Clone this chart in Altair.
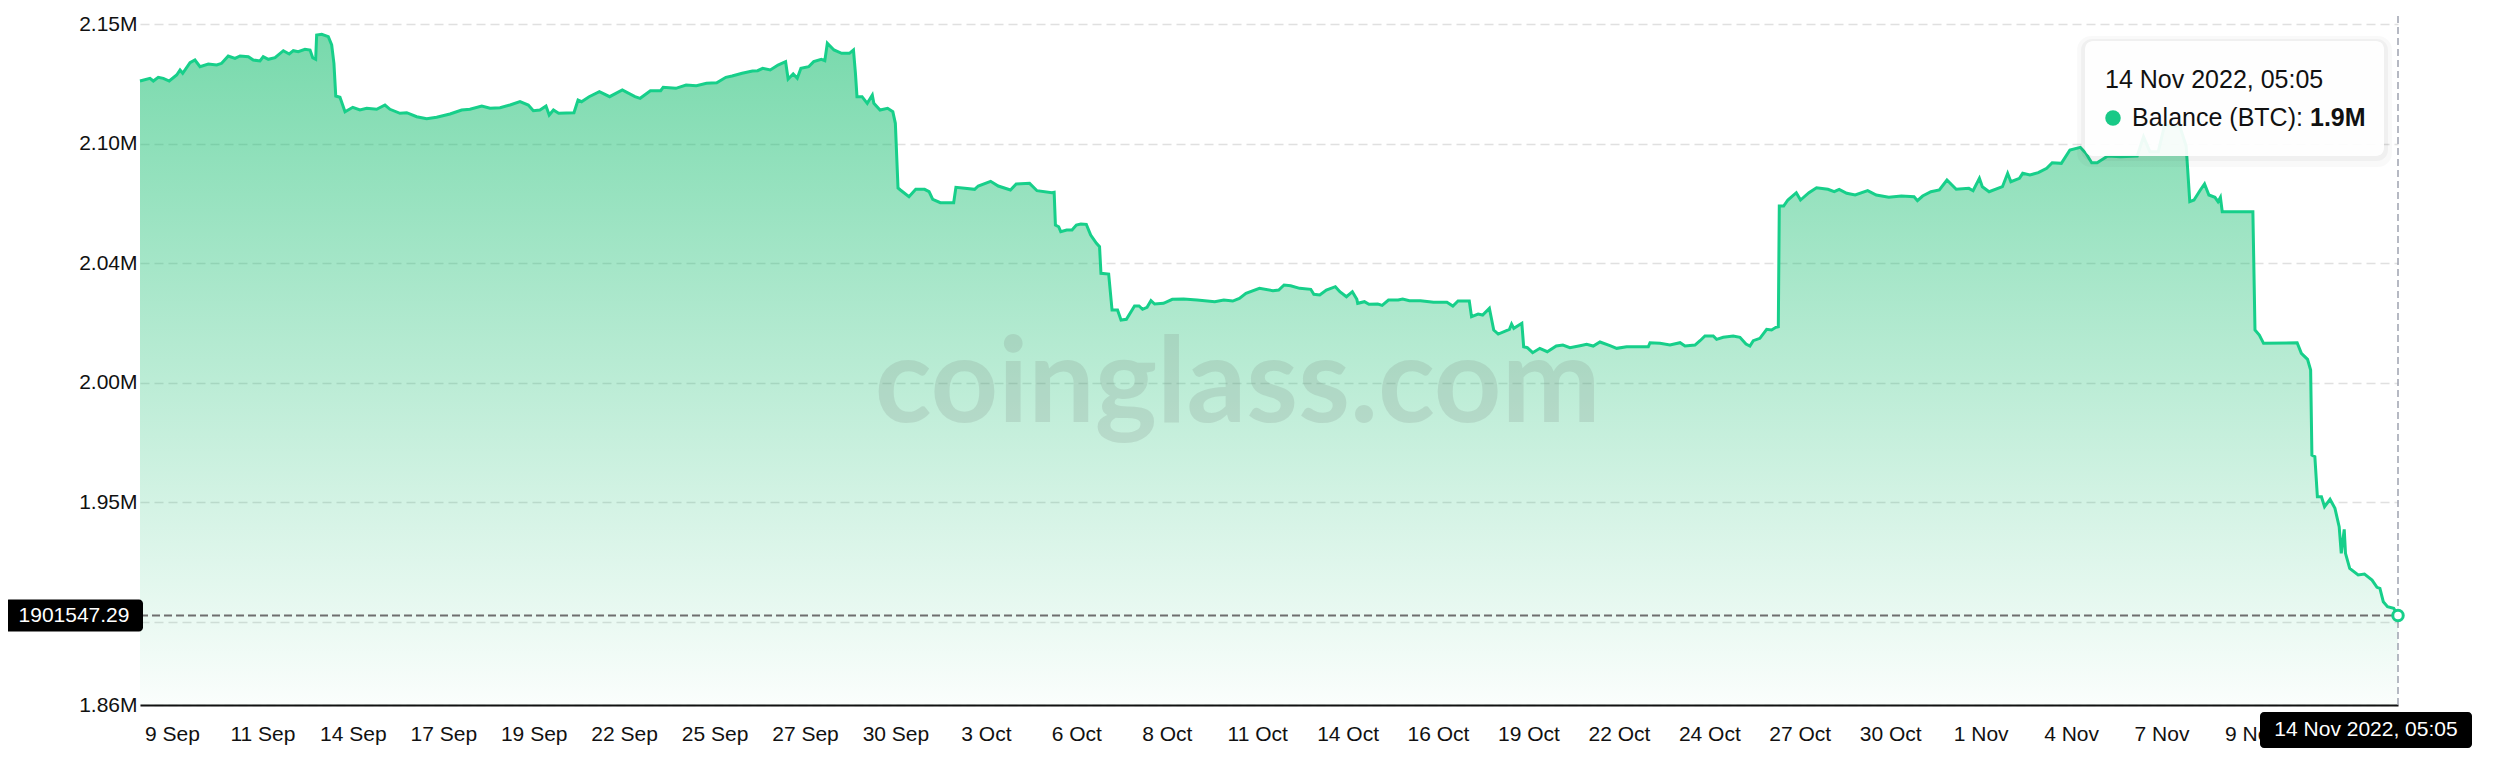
import altair as alt
import pandas as pd
from datetime import datetime

# ---------------- data ----------------
START_TIME = "2022-09-08 06:19"
END_TIME = "2022-11-14 05:05"

hours_from_start = [
    0, 7.1, 9.5, 13.0, 16.6, 20.8, 26.1, 28.5, 30.4, 35.6,
    39.1, 42.7, 48.6, 54.6, 58.1, 62.8, 67.6, 71.2, 77.1, 80.6,
    85.4, 87.7, 91.3, 96.1, 102.0, 106.2, 109.1, 112.6, 117.4, 121.0,
    122.9, 125.0, 125.7, 129.3, 134.0, 136.4, 138.0, 139.3, 142.3, 145.9,
    151.4, 156.5, 161.3, 168.4, 174.3, 177.9, 185.0, 189.8, 196.9, 204.0,
    211.1, 220.6, 228.9, 234.8, 243.2, 249.1, 256.2, 263.3, 270.4, 276.3,
    279.9, 284.6, 288.9, 291.2, 294.2, 297.9, 308.8, 311.7, 314.2, 319.6,
    326.9, 334.2, 343.2, 352.2, 355.9, 363.2, 370.5, 372.3, 381.3, 388.6,
    395.9, 403.1, 410.4, 416.9, 421.3, 428.5, 435.8, 439.5, 443.1, 448.5,
    454.0, 459.4, 461.2, 464.8, 467.7, 470.3, 475.8, 479.4, 484.8, 487.3,
    489.1, 493.8, 499.3, 504.8, 507.7, 509.1, 510.2, 513.8, 517.5, 521.1,
    522.2, 526.6, 532.0, 535.7, 537.5, 539.4, 541.1, 547.2, 552.0, 558.3,
    561.5, 564.1, 569.5, 579.0, 580.6, 586.9, 593.9, 596.5, 605.3, 610.7,
    619.4, 623.5, 633.0, 638.3, 648.9, 650.5, 651.4, 653.7, 655.2, 659.4,
    663.2, 666.3, 669.5, 673.4, 676.5, 680.6, 682.8, 683.8, 689.3, 691.7,
    695.6, 698.1, 701.9, 707.7, 710.9, 713.4, 716.6, 719.4, 722.0, 728.3,
    734.6, 742.6, 752.2, 764.8, 771.2, 777.6, 782.3, 787.0, 796.6, 806.2,
    810.3, 814.1, 818.8, 825.2, 833.1, 835.3, 839.5, 844.2, 850.6, 853.8,
    858.5, 862.7, 865.9, 866.5, 871.3, 874.5, 880.8, 883.9, 888.4, 895.3,
    898.5, 903.3, 911.2, 920.5, 930.0, 934.2, 937.9, 945.9, 947.5, 952.2,
    955.4, 960.2, 963.3, 966.5, 974.5, 976.0, 977.6, 983.3, 984.6, 987.2,
    991.0, 996.1, 1001.4, 1007.8, 1012.5, 1017.5, 1024.7, 1029.4, 1034.1, 1038.9,
    1046.0, 1050.8, 1057.9, 1073.3, 1074.5, 1081.6, 1088.7, 1095.9, 1099.4, 1106.5,
    1110.1, 1113.6, 1119.5, 1121.9, 1126.6, 1133.7, 1138.5, 1142.8, 1145.6, 1148.0,
    1152.7, 1157.5, 1161.0, 1164.1, 1165.8, 1166.5, 1169.6, 1172.6, 1178.6, 1181.6,
    1187.6, 1193.0, 1201.1, 1205.6, 1209.1, 1214.5, 1220.5, 1229.4, 1235.5, 1244.4,
    1253.4, 1262.4, 1264.8, 1268.5, 1274.4, 1280.4, 1285.8, 1292.4, 1301.4, 1304.4,
    1308.9, 1311.0, 1315.8, 1325.3, 1329.0, 1331.3, 1337.4, 1339.7, 1344.8, 1350.8,
    1356.8, 1360.7, 1367.2, 1373.3, 1380.7, 1384.7, 1388.8, 1392.7, 1400.2, 1409.2,
    1421.2, 1425.7, 1430.2, 1436.2, 1440.7, 1451.7, 1456.0, 1458.6, 1461.6, 1466.1,
    1469.1, 1472.2, 1476.5, 1478.7, 1480.4, 1481.7, 1503.5, 1505.0, 1508.1, 1511.1,
    1535.0, 1538.0, 1542.4, 1544.6, 1545.5, 1547.6, 1549.4, 1552.3, 1554.5, 1558.4,
    1561.9, 1564.9, 1566.4, 1568.5, 1569.4, 1572.4, 1578.4, 1582.9, 1588.3, 1591.8,
    1593.9, 1596.3, 1599.3, 1603.7, 1606.7667,
]

balance_btc = [
    2126060, 2127190, 2126060, 2127610, 2127190, 2126060, 2128580, 2130680, 2129290, 2133750,
    2134880, 2132070, 2133200, 2132780, 2133490, 2136560, 2135590, 2136560, 2136270, 2134880,
    2134460, 2136270, 2135170, 2135850, 2138790, 2137400, 2138790, 2138370, 2139370, 2139080,
    2135850, 2135170, 2145380, 2145670, 2144670, 2141180, 2133490, 2119760, 2119210, 2113170,
    2115010, 2113880, 2114590, 2114170, 2115980, 2114170, 2112490, 2112750, 2111070, 2110230,
    2110810, 2112200, 2113880, 2114170, 2115560, 2114590, 2114850, 2115980, 2117370, 2115980,
    2113590, 2113880, 2115560, 2111780, 2113880, 2112490, 2112750, 2118080, 2117370, 2119470,
    2121570, 2119470, 2122280, 2119470, 2118790, 2121990, 2121990, 2123410, 2122990, 2124380,
    2124090, 2125090, 2125350, 2127610, 2128160, 2129290, 2130260, 2130390, 2131390, 2130680,
    2132780, 2134170, 2126900, 2129000, 2127190, 2131390, 2132070, 2134170, 2135170, 2134590,
    2141890, 2139080, 2137690, 2137690, 2139080, 2129290, 2119470, 2119470, 2116690, 2120180,
    2116690, 2113880, 2114590, 2113170, 2108290, 2081120, 2080280, 2077470, 2080570, 2080570,
    2079570, 2076370, 2074950, 2074950, 2081410, 2080990, 2080570, 2081960, 2083930, 2081960,
    2080280, 2082800, 2083090, 2079990, 2079150, 2079310, 2065580, 2064870, 2062770, 2063480,
    2063480, 2065580, 2066000, 2065870, 2061380, 2057890, 2056470, 2045290, 2045000, 2029880,
    2029880, 2025680, 2025970, 2031560, 2031560, 2030170, 2031010, 2033790, 2032400, 2032690,
    2034370, 2034500, 2034080, 2033370, 2034080, 2033660, 2034790, 2036890, 2038990, 2037990,
    2038280, 2040380, 2040090, 2038990, 2038570, 2036470, 2036180, 2038280, 2039670, 2037570,
    2035470, 2037570, 2034370, 2032690, 2033370, 2032270, 2032400, 2031850, 2034080, 2034080,
    2034500, 2033790, 2033790, 2033110, 2033110, 2031560, 2033660, 2033660, 2027070, 2028200,
    2027780, 2030590, 2021480, 2019800, 2021770, 2024000, 2022190, 2024290, 2014470, 2014050,
    2011950, 2013790, 2012370, 2014760, 2015180, 2014050, 2014890, 2015470, 2014760, 2016440,
    2014890, 2013790, 2014470, 2014470, 2016150, 2015890, 2015180, 2016150, 2014760, 2015180,
    2016990, 2018960, 2018960, 2017570, 2018410, 2018960, 2018410, 2015600, 2014760, 2016990,
    2017990, 2021770, 2021480, 2022610, 2022860, 2073560, 2073560, 2076080, 2079150, 2076080,
    2079150, 2081250, 2080570, 2079570, 2080570, 2078890, 2078180, 2079990, 2078180, 2077210,
    2077760, 2077470, 2075790, 2077760, 2079570, 2080280, 2084480, 2080570, 2080990, 2079990,
    2085190, 2081670, 2079570, 2081670, 2087290, 2083770, 2085190, 2087290, 2086580, 2087550,
    2089390, 2091750, 2091490, 2097080, 2098210, 2095690, 2091750, 2091750, 2094560, 2094270,
    2094560, 2102670, 2096370, 2096370, 2107580, 2106740, 2098760, 2075370, 2076080, 2080280,
    2082800, 2078180, 2077210, 2075370, 2077210, 2071170, 2071170, 2021480, 2019380, 2015890,
    2016150, 2011690, 2009170, 2004680, 1968980, 1968270, 1951470, 1951470, 1947270, 1950370,
    1946590, 1938870, 1927690, 1937770, 1927690, 1921390, 1918580, 1919000, 1916480, 1913410,
    1912990, 1907370, 1905270, 1904590, 1901547.29,
]

x_tick_times = [
    "2022-09-09 05:05", "2022-09-11 21:26", "2022-09-14 13:47", "2022-09-17 06:08",
    "2022-09-19 22:29", "2022-09-22 14:50", "2022-09-25 07:11", "2022-09-27 23:32",
    "2022-09-30 15:53", "2022-10-03 08:14", "2022-10-06 00:35", "2022-10-08 16:56",
    "2022-10-11 09:17", "2022-10-14 01:38", "2022-10-16 17:59", "2022-10-19 10:20",
    "2022-10-22 02:41", "2022-10-24 19:02", "2022-10-27 11:23", "2022-10-30 03:44",
    "2022-11-01 20:05", "2022-11-04 12:26", "2022-11-07 04:47", "2022-11-09 21:08",
]

y_tick_values = [2150000, 2099810, 2049620, 1999430, 1949240, 1899050, 1864000]
y_tick_labels = ["2.15M", "2.10M", "2.04M", "2.00M", "1.95M", "", "1.86M"]
Y_MIN, Y_MAX = 1864000, 2150000

LAST_VALUE = 1901547.29
LAST_VALUE_TEXT = "1901547.29"
LAST_TIME_TEXT = "14 Nov 2022, 05:05"
TIP_TITLE = "14 Nov 2022, 05:05"
TIP_SERIES = "Balance (BTC):"
TIP_VALUE_TEXT = "1.9M"
WATERMARK = "coinglass.com"

# annotation anchors (data space)
TIP_TIME, TIP_VALUE = "2022-11-04 22:22", 2142860
WM_TIME, WM_VALUE = "2022-10-10 19:19", 1982966

# ---------------- styles ----------------
FONT = "Liberation Sans, Arial, Helvetica, sans-serif"
GREEN = "#17cf8a"
DOT_GREEN = "#19c987"

start = pd.Timestamp(START_TIME)
times = [(start + pd.Timedelta(hours=h)).strftime("%Y-%m-%dT%H:%M:%S") for h in hours_from_start]
df = pd.DataFrame({"time": times, "balance": balance_btc})
one = pd.DataFrame({"k": [0]})


def dt(s):
    d = datetime.strptime(s, "%Y-%m-%d %H:%M")
    return alt.DateTime(year=d.year, month=d.month, date=d.day, hours=d.hour, minutes=d.minute)


T0, T1 = dt(START_TIME), dt(END_TIME)
xs = alt.Scale(domain=[T0, T1], nice=False)
ys = alt.Scale(domain=[Y_MIN, Y_MAX], nice=False, zero=False)

label_expr = " : ".join(
    f"abs(datum.value - {v}) < 1 ? '{l}'" for v, l in zip(y_tick_values, y_tick_labels)
) + " : ''"

x_axis = alt.Axis(
    values=[dt(t) for t in x_tick_times], format="%-d %b", formatType="time",
    labelFont=FONT, labelFontSize=21, labelColor="#111", labelPadding=18,
    ticks=False, domainColor="#111", domainWidth=2, grid=False, title=None,
    labelOverlap=False, labelFlush=False, labelBound=False, zindex=0,
)
y_axis = alt.Axis(
    values=y_tick_values, labelExpr=label_expr,
    labelFont=FONT, labelFontSize=21, labelColor="#111", labelPadding=3,
    ticks=False, domain=False, grid=True, gridDash=[9, 5], gridColor="#e0e0e0",
    gridWidth=1.5, title=None, labelOverlap=False, labelFlush=False, zindex=0,
)

gradient = alt.LinearGradient(
    gradient="linear", x1=0, x2=0, y1=0, y2=1,
    stops=[
        alt.GradientStop(color="rgba(22,190,112,0.58)", offset=0),
        alt.GradientStop(color="rgba(22,190,112,0.02)", offset=1),
    ],
)

XF = alt.X("time:T", scale=xs, axis=x_axis)
YF = alt.Y("balance:Q", scale=ys, axis=y_axis)

area = alt.Chart(df).mark_area(color=gradient, line=False).encode(
    x=XF, y=YF, y2=alt.datum(Y_MIN),
)

line = alt.Chart(df).mark_line(color=GREEN, strokeWidth=3).encode(x=XF, y=YF)


def XD(s):
    return alt.X(datum=dt(s), type="temporal", scale=xs, axis=x_axis)


def YD(v):
    return alt.Y(datum=v, type="quantitative", scale=ys, axis=y_axis)


watermark = alt.Chart(one).mark_text(
    text=WATERMARK, font="Lato, Liberation Sans, sans-serif",
    fontWeight="bold", fontSize=118, fill="#7d8a84", opacity=0.2,
    align="center", baseline="alphabetic",
).encode(x=XD(WM_TIME), y=YD(WM_VALUE))

h_rule = alt.Chart(one).mark_rule(color="#6e6e6e", strokeWidth=2, strokeDash=[8, 4]).encode(
    x=XD(START_TIME), x2=alt.X2(datum=T1), y=YD(LAST_VALUE)
)
v_rule = alt.Chart(one).mark_rule(color="#9ea3b0", strokeWidth=1.5, strokeDash=[7, 4], yOffset=-8).encode(
    x=XD(END_TIME), y=YD(Y_MAX), y2=alt.Y2(datum=Y_MIN)
)

end_point = alt.Chart(one).mark_point(
    filled=True, fill="white", stroke=GREEN, strokeWidth=3, size=110, opacity=1
).encode(x=XD(END_TIME), y=YD(LAST_VALUE))

# tooltip card
shadow1 = alt.Chart(one).mark_rect(
    fill="#000", opacity=0.025, cornerRadius=14,
    xOffset=-8, x2Offset=307, yOffset=-5, y2Offset=126,
).encode(x=XD(TIP_TIME), x2=alt.X2(datum=dt(TIP_TIME)), y=YD(TIP_VALUE), y2=alt.Y2(datum=TIP_VALUE))
shadow2 = alt.Chart(one).mark_rect(
    fill="#000", opacity=0.035, cornerRadius=11,
    xOffset=-4, x2Offset=303, yOffset=-2, y2Offset=120,
).encode(x=XD(TIP_TIME), x2=alt.X2(datum=dt(TIP_TIME)), y=YD(TIP_VALUE), y2=alt.Y2(datum=TIP_VALUE))
card = alt.Chart(one).mark_rect(
    fill="#ffffff", opacity=0.93, cornerRadius=8,
    xOffset=0, x2Offset=299, yOffset=0, y2Offset=115,
).encode(x=XD(TIP_TIME), x2=alt.X2(datum=dt(TIP_TIME)), y=YD(TIP_VALUE), y2=alt.Y2(datum=TIP_VALUE))
tip_title = alt.Chart(one).mark_text(
    text=TIP_TITLE, font=FONT, fontSize=25, color="#111", align="left", baseline="middle", dx=20, dy=39,
).encode(x=XD(TIP_TIME), y=YD(TIP_VALUE))
tip_dot = alt.Chart(one).mark_point(
    filled=True, color=DOT_GREEN, size=240, opacity=1, xOffset=28, yOffset=77,
).encode(x=XD(TIP_TIME), y=YD(TIP_VALUE))
tip_series = alt.Chart(one).mark_text(
    text=TIP_SERIES, font=FONT, fontSize=25, color="#111", align="left", baseline="middle", dx=47, dy=77,
).encode(x=XD(TIP_TIME), y=YD(TIP_VALUE))
tip_value = alt.Chart(one).mark_text(
    text=TIP_VALUE_TEXT, font=FONT, fontSize=25, fontWeight="bold", color="#111",
    align="left", baseline="middle", dx=225, dy=77,
).encode(x=XD(TIP_TIME), y=YD(TIP_VALUE))

# left value badge
left_box = alt.Chart(one).mark_rect(
    fill="#000", cornerRadius=4, xOffset=-135, x2Offset=3, yOffset=-16, y2Offset=16,
).encode(x=XD(START_TIME), x2=alt.X2(datum=T0), y=YD(LAST_VALUE), y2=alt.Y2(datum=LAST_VALUE))
left_text = alt.Chart(one).mark_text(
    text=LAST_VALUE_TEXT, font=FONT, fontSize=21, color="#fff", align="center", baseline="middle", dx=-66,
).encode(x=XD(START_TIME), y=YD(LAST_VALUE))

# bottom time badge
bottom_box = alt.Chart(one).mark_rect(
    fill="#000", cornerRadius=4, xOffset=-138, x2Offset=74, yOffset=7, y2Offset=43,
).encode(x=XD(END_TIME), x2=alt.X2(datum=T1), y=YD(Y_MIN), y2=alt.Y2(datum=Y_MIN))
bottom_text = alt.Chart(one).mark_text(
    text=LAST_TIME_TEXT, font=FONT, fontSize=21, color="#fff", align="center", baseline="middle", dx=-32, dy=25,
).encode(x=XD(END_TIME), y=YD(Y_MIN))

chart = alt.layer(
    area, watermark, line, h_rule, v_rule, end_point,
    shadow1, shadow2, card, tip_title, tip_dot, tip_series, tip_value,
    left_box, left_text, bottom_box, bottom_text,
).properties(
    width=2258, height=681,
    autosize=alt.AutoSizeParams(type="none"),
    padding={"left": 132, "top": 16, "right": 80, "bottom": 43},
).configure_view(stroke=None)

chart.save("out.html", embed_options={"renderer": "svg", "actions": False})
